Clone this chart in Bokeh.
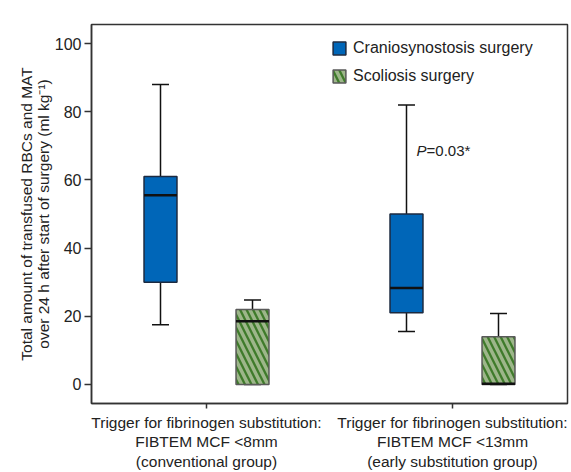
from bokeh.plotting import figure
from bokeh.models import Range1d, FixedTicker, Legend, LegendItem, ColumnDataSource
from bokeh.core.properties import value
from bokeh.embed import file_html
from bokeh.resources import INLINE

# ---- data ----
groups = [1, 2]
group_labels = [
    "Trigger for fibrinogen substitution:\nFIBTEM MCF <8mm\n(conventional group)",
    "Trigger for fibrinogen substitution:\nFIBTEM MCF <13mm\n(early substitution group)",
]
series_names = ["Craniosynostosis surgery", "Scoliosis surgery"]
crani_low = [17.5, 15.5]
crani_q1 = [30.0, 21.0]
crani_med = [55.5, 28.3]
crani_q3 = [61.0, 50.0]
crani_high = [88.0, 82.0]
scol_low = [0.0, 0.0]
scol_q1 = [0.0, 0.0]
scol_med = [18.5, 0.2]
scol_q3 = [22.0, 14.0]
scol_high = [24.8, 20.8]
y_ticks = [0, 20, 40, 60, 80, 100]
p_text = ["P", "=0.03*"]
p_pos = (1.854, 68.6)

# ---- style ----
FONT = "Liberation Sans"
BLUE = "#0066b8"
GREEN = "#3f7b2b"
STRIPE = "#9db68a"
OFFSET = 0.187
BOX_W = 0.134
CAP_W = 0.069

p = figure(width=571, height=472, output_backend="svg", toolbar_location=None,
           x_range=Range1d(0.5325, 2.4675), y_range=Range1d(-5.6, 105.6),
           min_border_left=91, min_border_right=4, min_border_top=24, min_border_bottom=69)
p.grid.visible = False
p.outline_line_color = "#333333"
p.outline_line_width = 1.5
p.background_fill_color = "white"
p.border_fill_color = "white"


def box_series(low, q1, med, q3, high, off, fill, outline, hatch):
    xs = [g + off for g in groups]
    src = ColumnDataSource(dict(x=xs, low=low, q1=q1, med=med, q3=q3, high=high,
                                l=[x - BOX_W / 2 for x in xs], r=[x + BOX_W / 2 for x in xs],
                                cl=[x - CAP_W / 2 for x in xs], cr=[x + CAP_W / 2 for x in xs]))
    p.segment(x0="x", y0="q3", x1="x", y1="high", source=src, line_color="#111111", line_width=1.5)
    p.segment(x0="x", y0="low", x1="x", y1="q1", source=src, line_color="#111111", line_width=1.5)
    p.segment(x0="cl", y0="high", x1="cr", y1="high", source=src, line_color="#111111", line_width=1.5)
    p.segment(x0="cl", y0="low", x1="cr", y1="low", source=src, line_color="#111111", line_width=1.5)
    kw = {}
    if hatch:
        kw = dict(hatch_pattern="left_diagonal_line", hatch_color=STRIPE, hatch_scale=13,
                  hatch_weight=3.5, hatch_alpha=1.0)
    r = p.vbar(x="x", width=BOX_W, bottom="q1", top="q3", source=src, fill_color=fill,
               line_color=outline, line_width=1.5, **kw)
    p.segment(x0="l", y0="med", x1="r", y1="med", source=src, line_color="#111111", line_width=2.5)
    return r


r1 = box_series(crani_low, crani_q1, crani_med, crani_q3, crani_high, -OFFSET, BLUE, "#1c2a40", False)
r2 = box_series(scol_low, scol_q1, scol_med, scol_q3, scol_high, OFFSET, GREEN, "#5a5a5a", True)

p.text(x=[p_pos[0]], y=[p_pos[1]], text=[p_text[0]], text_font=value(FONT), text_font_size="15px",
       text_font_style="italic", text_baseline="middle", text_color="#222222")
p.text(x=[p_pos[0]], y=[p_pos[1]], text=[p_text[1]], text_font=value(FONT), text_font_size="15px",
       text_baseline="middle", text_color="#222222", x_offset=10)

legend = Legend(items=[LegendItem(label=series_names[0], renderers=[r1]),
                       LegendItem(label=series_names[1], renderers=[r2])],
                location=(240, 318), glyph_width=16, glyph_height=16, label_height=16,
                spacing=10, padding=0, margin=0, border_line_color=None,
                background_fill_alpha=0, label_text_font=FONT, label_text_font_size="16px",
                label_text_color="#222222", label_standoff=6)
p.add_layout(legend)

p.yaxis.ticker = FixedTicker(ticks=y_ticks)
p.xaxis.ticker = FixedTicker(ticks=groups)
p.xaxis.major_label_overrides = {g: lab for g, lab in zip(groups, group_labels)}
for ax in (p.xaxis, p.yaxis):
    ax.axis_line_color = "#333333"
    ax.axis_line_width = 1.5
    ax.major_tick_line_color = "#333333"
    ax.major_tick_line_width = 1.5
    ax.major_tick_in = 0
    ax.minor_tick_line_color = None
    ax.major_label_text_font = FONT
    ax.major_label_text_color = "#222222"
p.yaxis.major_tick_out = 7
p.xaxis.major_tick_out = 5
p.yaxis.major_label_text_font_size = "16px"
p.xaxis.major_label_text_font_size = "15.5px"
p.xaxis.major_label_text_line_height = 1.15
p.yaxis.major_label_standoff = 3
p.xaxis.major_label_standoff = 5
p.yaxis.axis_label = "Total amount of transfused RBCs and MAT\nover 24 h after start of surgery (ml kg\u207b\u00b9)"
p.yaxis.axis_label_text_font = FONT
p.yaxis.axis_label_text_font_size = "15.5px"
p.yaxis.axis_label_text_font_style = "normal"
p.yaxis.axis_label_text_color = "#222222"
p.yaxis.axis_label_text_line_height = 1.0
p.yaxis.axis_label_standoff = 0

open("out.html", "w").write(file_html(p, INLINE))
